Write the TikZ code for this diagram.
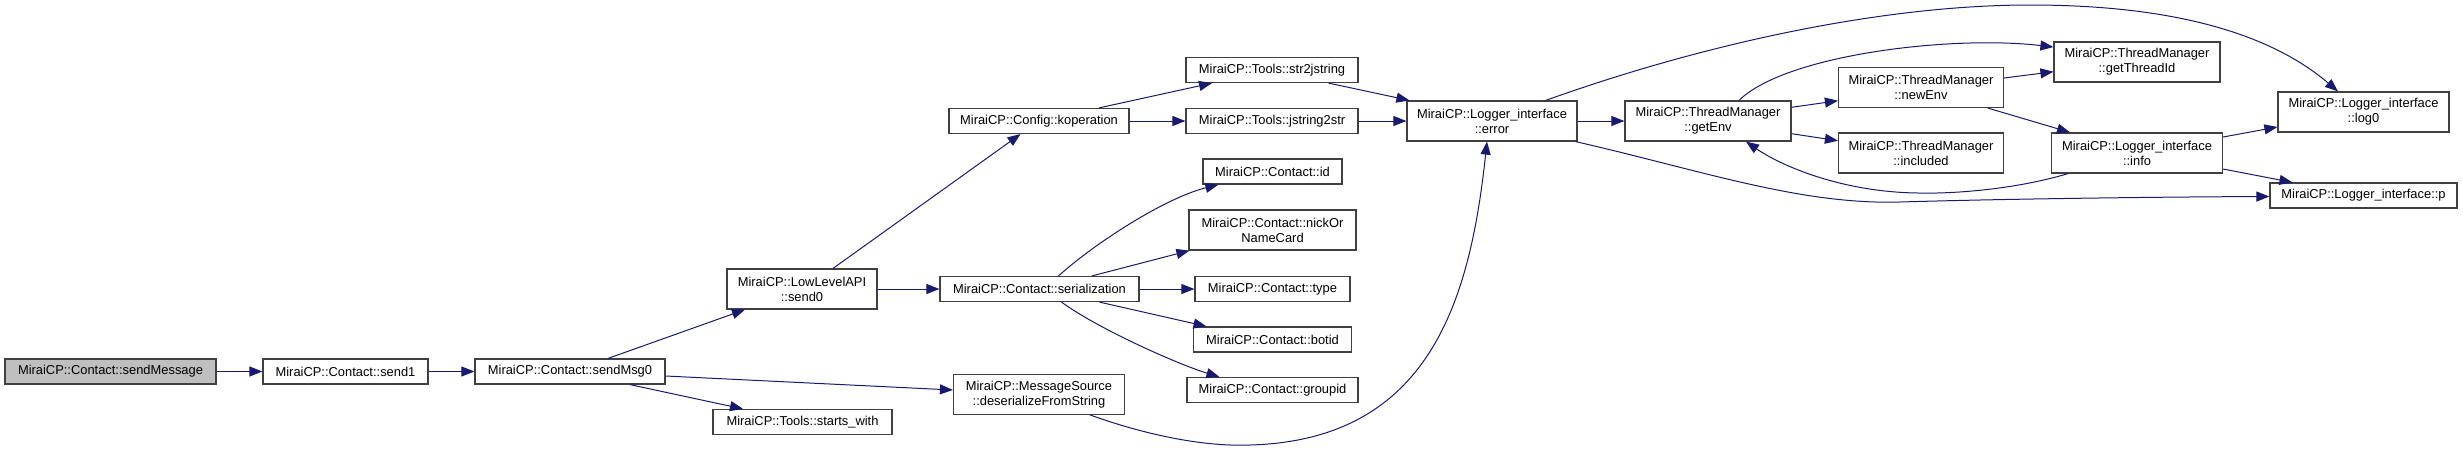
\documentclass[tikz,border=0pt]{standalone}
\usepackage{fontspec}
\setmainfont{Liberation Sans}
\usetikzlibrary{arrows.meta}
\definecolor{edgec}{HTML}{191970}
\definecolor{nodeb}{HTML}{404040}
\definecolor{graybg}{HTML}{BFBFBF}
\begin{document}
\begin{tikzpicture}[x=1pt,y=-1pt,
  fn/.style={draw=nodeb,line width=1.2pt,fill=white,inner sep=0pt,align=center,
    font=\fontsize{12.9}{15}\selectfont},
  one/.style={fn,minimum height=25pt},
  two/.style={fn,minimum height=40pt},
  call/.style={draw=edgec,line width=1pt,-{Triangle[length=13pt,width=10pt]}}]
\useasboundingbox (0,0) rectangle (2463,451);
% nodes
\node[one,fill=graybg,minimum width=211pt] (sm) at (110.5,371.5) {MiraiCP::Contact::sendMessage};
\node[one,minimum width=165pt] (s1) at (345.5,371.5) {MiraiCP::Contact::send1};
\node[one,minimum width=190pt] (smg) at (570,371.5) {MiraiCP::Contact::sendMsg0};
\node[two,minimum width=150pt] (s0) at (802,289) {MiraiCP::LowLevelAPI\\::send0};
\node[one,minimum width=179pt] (sw) at (802.5,422) {MiraiCP::Tools::starts\_with};
\node[one,minimum width=180pt] (ko) at (1039,121) {MiraiCP::Config::koperation};
\node[one,minimum width=172pt] (s2j) at (1272,70) {MiraiCP::Tools::str2jstring};
\node[one,minimum width=172pt] (j2s) at (1272,121) {MiraiCP::Tools::jstring2str};
\node[two,minimum width=170pt] (err) at (1492,121) {MiraiCP::Logger\_interface\\::error};
\node[one,minimum width=139pt] (id) at (1272.5,171.5) {MiraiCP::Contact::id};
\node[two,minimum width=167pt] (nick) at (1272.5,230) {MiraiCP::Contact::nickOr\\NameCard};
\node[one,minimum width=199pt] (ser) at (1039.5,289) {MiraiCP::Contact::serialization};
\node[one,minimum width=155pt] (ty) at (1272.5,289) {MiraiCP::Contact::type};
\node[one,minimum width=158pt] (bot) at (1272.5,339.5) {MiraiCP::Contact::botid};
\node[one,minimum width=171pt] (gid) at (1272.5,390) {MiraiCP::Contact::groupid};
\node[two,minimum width=171pt] (ms) at (1039,394.3) {MiraiCP::MessageSource\\::deserializeFromString};
\node[two,minimum width=166pt] (ge) at (1708,121) {MiraiCP::ThreadManager\\::getEnv};
\node[two,minimum width=165pt] (ne) at (1921,87.5) {MiraiCP::ThreadManager\\::newEnv};
\node[two,minimum width=165pt] (inc) at (1921,153) {MiraiCP::ThreadManager\\::included};
\node[two,minimum width=166pt] (gti) at (2137,62) {MiraiCP::ThreadManager\\::getThreadId};
\node[two,minimum width=171pt] (info) at (2137,153) {MiraiCP::Logger\_interface\\::info};
\node[two,minimum width=171pt] (log) at (2363.5,112) {MiraiCP::Logger\_interface\\::log0};
\node[one,minimum width=187pt] (p) at (2363.5,195.5) {MiraiCP::Logger\_interface::p};
% edges
\draw[call] (sm.east) -- (s1.west);
\draw[call] (s1.east) -- (smg.west);
\draw[call] ([xshift=38pt]smg.north) -- ([xshift=-57pt]s0.south);
\draw[call] ([xshift=60pt]smg.south) -- ([xshift=-59.5pt]sw.north);
\draw[call] ([yshift=-4.5pt]smg.east) -- ([yshift=4.3pt]ms.west);
\draw[call] ([xshift=31pt]s0.north) -- ([xshift=-18.5pt]ko.south);
\draw[call] (s0.east) -- (ser.west);
\draw[call] ([xshift=60pt]ko.north) -- ([xshift=-60pt]s2j.south);
\draw[call] (ko.east) -- (j2s.west);
\draw[call] ([xshift=56.6pt]s2j.south) -- ([xshift=3pt]err.north west);
\draw[call] (j2s.east) -- (err.west);
\draw[call] ([xshift=19pt]ser.north) .. controls (1095,243) and (1165,198) .. ([xshift=16pt]id.south west);
\draw[call] ([xshift=52.5pt]ser.north) -- ([xshift=1pt]nick.south west);
\draw[call] (ser.east) -- (ty.west);
\draw[call] ([xshift=60pt]ser.south) -- ([xshift=-66pt]bot.north);
\draw[call] ([xshift=22pt]ser.south) .. controls (1100,330) and (1180,365) .. ([xshift=33pt]gid.north west);
\draw[call] ([xshift=51pt]ms.south) .. controls (1140,433) and (1200,447) .. (1250,445)
  .. controls (1430,440) and (1470,300) .. ([xshift=-5pt]err.south);
\draw[call] (err.east) -- (ge.west);
\draw[call] ([xshift=53.7pt]err.north) .. controls (1700,45) and (1880,5) .. (2030,5)
  .. controls (2150,5) and (2260,25) .. ([xshift=-25.5pt]log.north);
\draw[call] ([xshift=-2pt]err.south east) .. controls (1700,170) and (1800,205) .. (1900,202)
  .. controls (2000,199) and (2150,197) .. ([yshift=-1pt]p.west);
\draw[call] ([xshift=31pt]ge.north) .. controls (1785,55) and (1950,35) .. ([yshift=15pt]gti.west);
\draw[call] ([yshift=13.7pt]ge.east) -- ([yshift=-13.2pt]ne.west);
\draw[call] ([yshift=-12.7pt]ge.east) -- ([yshift=12.3pt]inc.west);
\draw[call] ([yshift=9.5pt]ne.east) -- ([yshift=-9.7pt]gti.west);
\draw[call] ([xshift=67pt]ne.south) -- ([xshift=-67pt]info.north);
\draw[call] ([xshift=-69pt]info.south) .. controls (2020,188) and (1960,194) .. (1918,193)
  .. controls (1840,192) and (1780,165) .. ([xshift=38pt]ge.south);
\draw[call] ([yshift=16pt]info.east) -- ([yshift=-15pt]log.west);
\draw[call] ([yshift=-16pt]info.east) -- ([xshift=23pt]p.north west);
\end{tikzpicture}
\end{document}
